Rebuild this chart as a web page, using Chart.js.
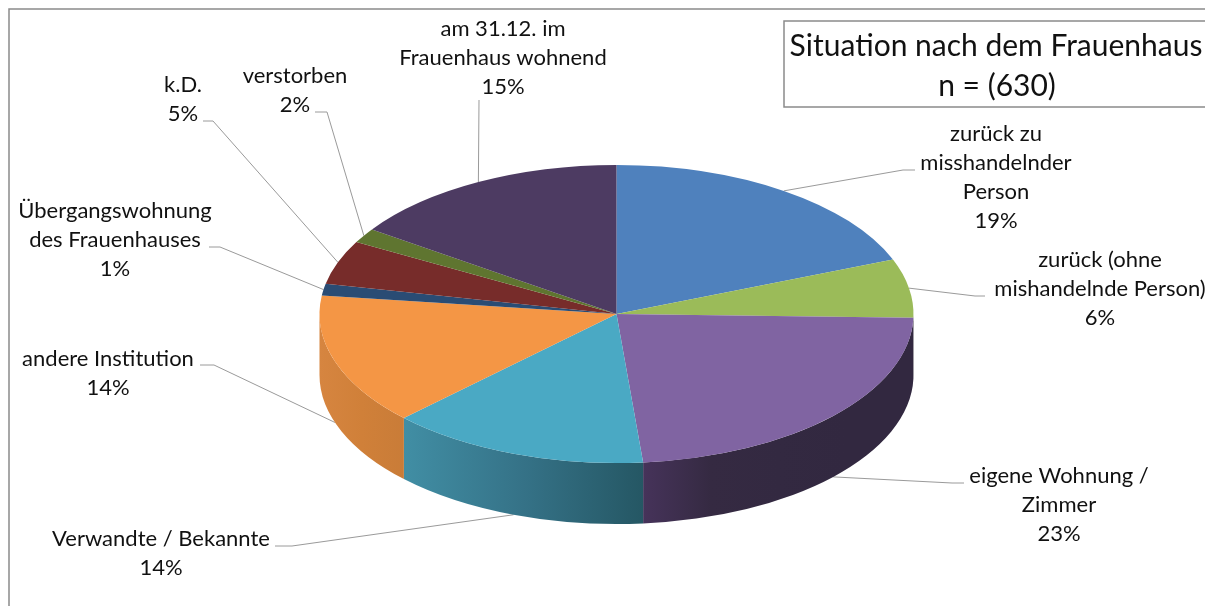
<!DOCTYPE html>
<html lang="de">
<head>
<meta charset="utf-8">
<title>Situation nach dem Frauenhaus</title>
<style>html,body{margin:0;padding:0;background:#fff}canvas{display:block}</style>
<script src="https://cdn.jsdelivr.net/npm/chart.js@4"></script>
</head>
<body>
<canvas id="c" width="1205" height="606"></canvas>
<script>
// --- data ---
const categories = [
  ['zurück zu', 'misshandelnder', 'Person'],
  ['zurück (ohne', 'mishandelnde Person)'],
  ['eigene Wohnung /', 'Zimmer'],
  ['Verwandte / Bekannte'],
  ['andere Institution'],
  ['Übergangswohnung', 'des Frauenhauses'],
  ['k.D.'],
  ['verstorben'],
  ['am 31.12. im', 'Frauenhaus wohnend']
];
const counts = [120, 40, 146, 89, 90, 8, 30, 10, 97];
const titleLines = ['Situation nach dem Frauenhaus', 'n = (630)'];

// --- styling ---
const topColors = ['#4F81BD','#9BBB59','#8064A2','#4AA9C4','#F49645','#2A4C74','#772C2A','#5F7530','#4D3B62'];
const wallColors = [
  null, ['#4f6130','#4f6130'], ['#322840','#322840','#332941','#352a42','#46335a'], ['#255764','#357287','#418ea4'],
  ['#c97c38','#d08039','#d68540'], null, null, null, null
];
// label placement: centre x, y of first line, elbow and end of the leader
const labelLayout = [
  {x:996, y:134, elbow:[903,170], end:[915,170]},
  {x:1100,y:260, elbow:[975,296], end:[985,296]},
  {x:1059,y:476, elbow:[952,483], end:[964,483]},
  {x:161, y:539, elbow:[292,546], end:[275,546]},
  {x:108, y:359, elbow:[214,365], end:[200,365]},
  {x:115, y:211, elbow:[220,247], end:[209,247]},
  {x:183, y:85,  elbow:[213,121], end:[203,121]},
  {x:295, y:76,  elbow:[327,112], end:[315,112]},
  {x:503, y:29,  elbow:[479,100], end:[479,100]}
];
const FONT = 'Lato, "Open Sans", sans-serif';
const LABEL_SIZE = 22, TITLE_SIZE = 30, LINE_H = 29;
const SQUASH = 0.5017, DEPTH = 61, SCREEN_CY = 314;

const total = counts.reduce((a, b) => a + b, 0);
const pctText = v => Math.round(v / total * 100) + '%';

const pie3d = {
  id: 'pie3d',
  beforeDraw(chart) {
    const ctx = chart.ctx;
    ctx.save();
    ctx.fillStyle = '#fff';
    ctx.fillRect(0, 0, chart.width, chart.height);
    ctx.strokeStyle = '#8a8a8a';
    ctx.lineWidth = 1.5;
    ctx.strokeRect(9, 9, chart.width + 20, chart.height + 20);
    ctx.restore();
  },
  beforeDatasetsDraw(chart) {
    const ctx = chart.ctx;
    const arcs = chart.getDatasetMeta(0).data;
    const sy = y => SCREEN_CY + (y - arcs[0].y) * SQUASH;

    // leader lines lie behind the pie
    ctx.save();
    ctx.strokeStyle = '#9a9a9a';
    ctx.lineWidth = 1;
    arcs.forEach((a, i) => {
      const mid = (a.startAngle + a.endAngle) / 2;
      const ax = a.x + a.outerRadius * Math.cos(mid);
      let ay = sy(a.y + a.outerRadius * Math.sin(mid));
      if (Math.sin(mid) > 0.2) ay += DEPTH;
      const l = labelLayout[i];
      ctx.beginPath();
      ctx.moveTo(ax, ay);
      ctx.lineTo(l.elbow[0], l.elbow[1]);
      ctx.lineTo(l.end[0], l.end[1]);
      ctx.stroke();
    });
    ctx.restore();

    // side walls of the front half
    arcs.forEach((a, i) => {
      const s = Math.max(a.startAngle, 0), e = Math.min(a.endAngle, Math.PI);
      if (e <= s || !wallColors[i]) return;
      const r = a.outerRadius, ry = r * SQUASH, cy = SCREEN_CY;
      const x0 = a.x + r * Math.cos(s), x1 = a.x + r * Math.cos(e);
      const g = ctx.createLinearGradient(x0, 0, x1, 0);
      wallColors[i].forEach((c, k, all) => g.addColorStop(k / (all.length - 1), c));
      ctx.save();
      ctx.fillStyle = g;
      ctx.beginPath();
      ctx.ellipse(a.x, cy, r, ry, 0, s, e, false);
      ctx.ellipse(a.x, cy + DEPTH, r, ry, 0, e, s, true);
      ctx.closePath();
      ctx.fill();
      ctx.restore();
    });

    // squash the library's circular arcs into the tilted top face
    ctx.save();
    ctx.translate(0, SCREEN_CY);
    ctx.scale(1, SQUASH);
    ctx.translate(0, -arcs[0].y);
  },
  afterDatasetsDraw(chart) {
    const ctx = chart.ctx;
    ctx.restore();
    ctx.save();
    ctx.fillStyle = '#111';
    ctx.textAlign = 'center';
    ctx.textBaseline = 'middle';
    ctx.font = LABEL_SIZE + 'px ' + FONT;
    categories.forEach((lines, i) => {
      const l = labelLayout[i];
      lines.concat(pctText(counts[i])).forEach((t, k) => ctx.fillText(t, l.x, l.y + k * LINE_H));
    });
    // title box
    ctx.fillStyle = '#fff';
    ctx.strokeStyle = '#8a8a8a';
    ctx.lineWidth = 1.5;
    ctx.fillRect(784, 21, 440, 86);
    ctx.strokeRect(784, 21, 440, 86);
    ctx.fillStyle = '#111';
    ctx.font = TITLE_SIZE + 'px ' + FONT;
    ctx.fillText(titleLines[0], 996, 46);
    ctx.fillText(titleLines[1], 997, 86);
    ctx.restore();
  }
};

new Chart(document.getElementById('c'), {
  type: 'pie',
  data: {
    labels: categories.map(l => l.join(' ')),
    datasets: [{ data: counts, backgroundColor: topColors, borderWidth: 0 }]
  },
  options: {
    responsive: false,
    animation: false,
    layout: { padding: { left: 28, right: 0, top: 6, bottom: 6 } },
    plugins: { legend: { display: false }, tooltip: { enabled: false } }
  },
  plugins: [pie3d]
});
</script>
</body>
</html>
